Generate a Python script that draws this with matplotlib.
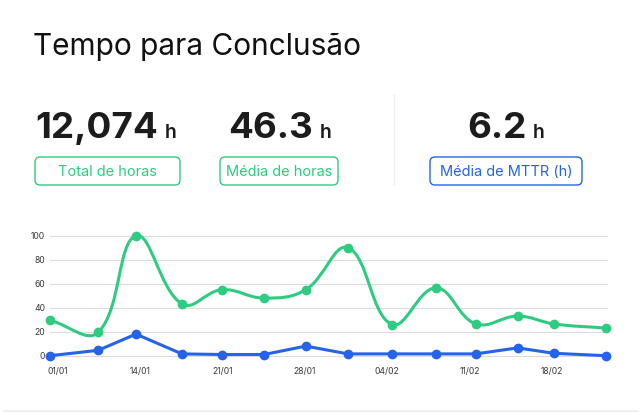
import numpy as np
import matplotlib
matplotlib.use('Agg')
import matplotlib.pyplot as plt
from matplotlib.path import Path
from matplotlib.patches import PathPatch, FancyBboxPatch

plt.rcParams['font.family'] = ['Inter', 'DejaVu Sans']

# data
title = 'Tempo para Conclusão'
kpi_values = ['12,074', '46.3', '6.2']
kpi_labels = ['Total de horas', 'Média de horas', 'Média de MTTR (h)']

# x = day of year of each sample
days = [6.32, 10.42, 13.63, 17.54, 20.93, 24.53, 28.07, 31.66, 35.38, 39.12, 42.52, 46.08, 49.17, 53.6]
horas = [29.5, 19.5, 100, 43, 55, 48, 55, 90, 26, 56.5, 26.5, 33, 26.5, 23]
mttr = [0, 4.5, 18, 1.5, 1, 1, 8, 1.5, 1.5, 1.5, 1.5, 6.5, 2, 0]
tick_days = [7, 14, 21, 28, 35, 42, 49]
tick_labels = ['01/01', '14/01', '21/01', '28/01', '04/02', '11/02', '18/02']
y_ticks = [0, 20, 40, 60, 80, 100]

GREEN = '#2fcb80'
BLUE = '#2563eb'
W, H = 642, 412

fig = plt.figure(figsize=(W / 100, H / 100), dpi=100)
fig.patch.set_facecolor('white')

# overlay axes in pixel units for the header part
ov = fig.add_axes([0, 0, 1, 1], zorder=0)
ov.set_xlim(0, W)
ov.set_ylim(H, 0)
ov.axis('off')

ov.text(33, 55, title, fontsize=21.5, color='#111111', va='baseline', ha='left')

num_right = [158, 313, 527]
h_left = [165, 320, 533]
boxes = [(35, 180), (220, 338), (430, 582)]
colors = [GREEN, GREEN, BLUE]
for i in range(3):
    ov.text(num_right[i], 138, kpi_values[i], fontsize=26.5, fontweight='bold',
            color='#1c1c1c', ha='right', va='baseline')
    ov.text(h_left[i], 138, 'h', fontsize=14, fontweight='semibold',
            color='#1c1c1c', ha='left', va='baseline')
    x0, x1 = boxes[i]
    ov.add_patch(FancyBboxPatch((x0, 157), x1 - x0, 28,
                                boxstyle='round,pad=0,rounding_size=5',
                                fc='white', ec=colors[i], lw=1.0))
    ov.text((x0 + x1) / 2, 171.5, kpi_labels[i], fontsize=10.5, color=colors[i],
            ha='center', va='center')

# divider and card bottom edge
ov.plot([393.5, 393.5], [95, 184], color='#eeeeee', lw=1)
ov.plot([4, W - 4], [410.5, 410.5], color='#ececec', lw=1.2)

# chart area
left, right, top, bottom = 50, 606, 235.7, 355.7
ax = fig.add_axes([left / W, 1 - bottom / H, (right - left) / W, (bottom - top) / H], zorder=1)
ax.patch.set_alpha(0)
ax.set_xlim(days[0], days[-1])
ax.set_ylim(0, 100)
for s in ax.spines.values():
    s.set_visible(False)

for yv in y_ticks:
    ax.plot([days[0], days[-1] + 0.1], [yv, yv], color='#dcdcdc', lw=0.8, zorder=1, clip_on=False)

ax.set_yticks(y_ticks)
ax.set_xticks(tick_days)
ax.set_xticklabels(tick_labels)
ax.tick_params(axis='both', length=0, labelsize=6.2, labelcolor='#3a3a3a')
ax.tick_params(axis='y', pad=3.6)
ax.tick_params(axis='x', pad=8)


def spline_path(xs, ys, t=0.4):
    # Chart.js style tension curve, computed in pixel space
    sx = (right - left) / (days[-1] - days[0])
    sy = (bottom - top) / 100.0
    X = np.asarray(xs) * sx
    Y = np.asarray(ys) * sy
    n = len(X)
    cin, cout = [], []
    for i in range(n):
        p = max(i - 1, 0)
        q = min(i + 1, n - 1)
        d01 = np.hypot(X[i] - X[p], Y[i] - Y[p])
        d12 = np.hypot(X[q] - X[i], Y[q] - Y[i])
        tot = d01 + d12
        s01 = d01 / tot if tot else 0
        s12 = d12 / tot if tot else 0
        fa, fb = t * s01, t * s12
        cin.append((X[i] - fa * (X[q] - X[p]), Y[i] - fa * (Y[q] - Y[p])))
        cout.append((X[i] + fb * (X[q] - X[p]), Y[i] + fb * (Y[q] - Y[p])))
    verts = [(X[0], Y[0])]
    codes = [Path.MOVETO]
    for i in range(n - 1):
        verts += [cout[i], cin[i + 1], (X[i + 1], Y[i + 1])]
        codes += [Path.CURVE4] * 3
    verts = [(a / sx, b / sy) for a, b in verts]
    return Path(verts, codes)


ax.add_patch(PathPatch(spline_path(days, horas), fc='none', ec=GREEN, lw=2.2,
                       zorder=3, clip_on=False, capstyle='round', joinstyle='round'))
ax.plot(days, horas, 'o', color=GREEN, ms=6, zorder=4, clip_on=False)
ax.plot(days, mttr, '-o', color=BLUE, lw=2.2, ms=6, zorder=5, clip_on=False,
        solid_capstyle='round', solid_joinstyle='round')

fig.savefig('out.png', dpi=100, facecolor='white')
